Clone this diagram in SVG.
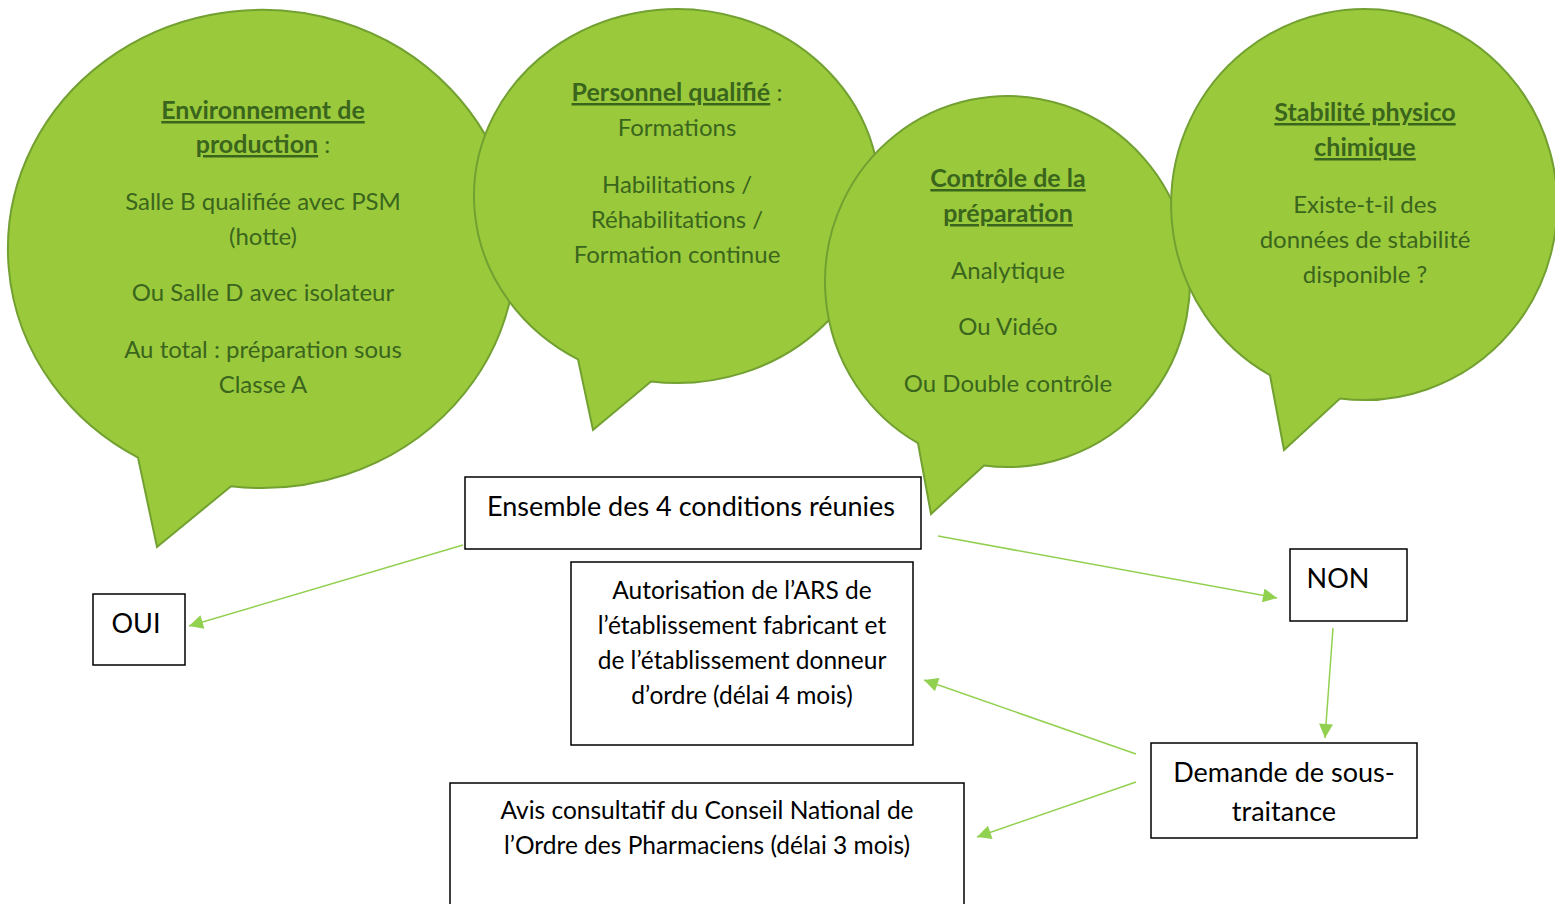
<svg xmlns="http://www.w3.org/2000/svg" width="1555" height="904" viewBox="0 0 1555 904">
<style>
.bub{fill:#9aca3c;stroke:#72a031;stroke-width:2}
.bt{font-family:Lato,"Liberation Sans",sans-serif;font-size:24px;fill:#3a651c;text-anchor:middle}
.bh{font-weight:bold;text-decoration:underline;font-size:25px}
.box{fill:#fff;stroke:#000;stroke-width:1.5}
.t{font-family:Lato,"Liberation Sans",sans-serif;font-size:24.5px;fill:#000;text-anchor:middle}
.tl{font-size:27px}
.con{stroke:#92d050;stroke-width:1.5;fill:none;marker-end:url(#ah)}
</style>
<defs>
<marker id="ah" viewBox="0 0 10 10" refX="10" refY="5" markerWidth="18" markerHeight="14" markerUnits="userSpaceOnUse" orient="auto">
<path d="M0,0 L10,5 L0,10 Z" fill="#92d050"/>
</marker>
</defs>
<rect width="1555" height="904" fill="#fff"/>

<g id="bubble1">
<path class="bub" d="M138,457.6 A254,239 0 1 1 231,486.2 L157,547 Z"/>
<text class="bt" x="263" y="119"><tspan class="bh">Environnement de</tspan></text>
<text class="bt" x="263" y="153"><tspan class="bh">production</tspan> :</text>
<text class="bt" x="263" y="210">Salle B qualifiée avec PSM</text>
<text class="bt" x="263" y="245">(hotte)</text>
<text class="bt" x="263" y="301">Ou Salle D avec isolateur</text>
<text class="bt" x="263" y="358">Au total : préparation sous</text>
<text class="bt" x="263" y="393">Classe A</text>
</g>

<g id="bubble2">
<path class="bub" d="M578,359.3 A203,187 0 1 1 651,381.5 L593,430 Z"/>
<text class="bt" x="677" y="101"><tspan class="bh">Personnel qualifié</tspan> :</text>
<text class="bt" x="677" y="136">Formations</text>
<text class="bt" x="677" y="193">Habilitations /</text>
<text class="bt" x="677" y="228">Réhabilitations /</text>
<text class="bt" x="677" y="263">Formation continue</text>
</g>

<g id="bubble3">
<path class="bub" d="M918,443.2 A182.5,185.5 0 1 1 984,465.5 L931,514 Z"/>
<text class="bt" x="1008" y="187"><tspan class="bh">Contrôle de la</tspan></text>
<text class="bt" x="1008" y="222"><tspan class="bh">préparation</tspan></text>
<text class="bt" x="1008" y="279">Analytique</text>
<text class="bt" x="1008" y="335">Ou Vidéo</text>
<text class="bt" x="1008" y="392">Ou Double contrôle</text>
</g>

<g id="bubble4">
<path class="bub" d="M1270,375.2 A193,195.5 0 1 1 1340,398.5 L1284,450 Z"/>
<text class="bt" x="1365" y="121"><tspan class="bh">Stabilité physico</tspan></text>
<text class="bt" x="1365" y="156"><tspan class="bh">chimique</tspan></text>
<text class="bt" x="1365" y="213">Existe-t-il des</text>
<text class="bt" x="1365" y="248">données de stabilité</text>
<text class="bt" x="1365" y="283">disponible ?</text>
</g>

<g id="ensemble">
<rect class="box" x="465" y="477" width="456" height="72"/>
<text class="t tl" x="691" y="516">Ensemble des 4 conditions réunies</text>
</g>
<g id="oui">
<rect class="box" x="93" y="594" width="92" height="71"/>
<text class="t tl" x="136" y="633">OUI</text>
</g>
<g id="non">
<rect class="box" x="1290" y="549" width="117" height="72"/>
<text class="t tl" x="1338" y="588">NON</text>
</g>
<g id="autorisation">
<rect class="box" x="571" y="562" width="342" height="183"/>
<text class="t" x="742" y="599">Autorisation de l’ARS de</text>
<text class="t" x="742" y="634">l’établissement fabricant et</text>
<text class="t" x="742" y="669">de l’établissement donneur</text>
<text class="t" x="742" y="704">d’ordre (délai 4 mois)</text>
</g>
<g id="avis">
<rect class="box" x="450" y="783" width="514" height="135"/>
<text class="t" x="707" y="819">Avis consultatif du Conseil National de</text>
<text class="t" x="707" y="854">l’Ordre des Pharmaciens (délai 3 mois)</text>
</g>
<g id="demande">
<rect class="box" x="1151" y="743" width="266" height="95"/>
<text class="t tl" x="1284" y="782">Demande de sous-</text>
<text class="t tl" x="1284" y="821">traitance</text>
</g>

<g id="connectors">
<line class="con" x1="463" y1="545" x2="189" y2="626"/>
<line class="con" x1="938" y1="536" x2="1277" y2="598"/>
<line class="con" x1="1333" y1="628" x2="1325" y2="738"/>
<line class="con" x1="1136" y1="754" x2="924" y2="680"/>
<line class="con" x1="1136" y1="782" x2="977" y2="837"/>
</g>
</svg>
